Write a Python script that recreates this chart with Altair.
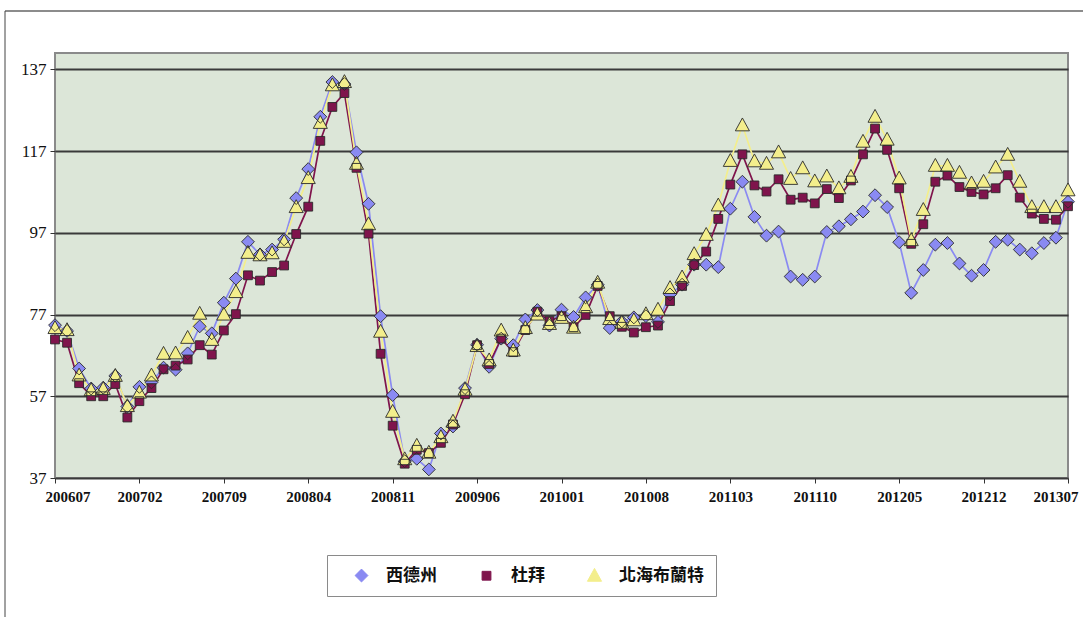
import altair as alt
import pandas as pd

# Monthly labels, 2006-07 .. 2013-07
months = [f"{2006 + (6 + i) // 12}{(6 + i) % 12 + 1:02d}" for i in range(85)]

series_names = ["西德州", "杜拜", "北海布蘭特"]

wti = [74.4, 73.0, 63.8, 58.9, 59.1, 62.0,
       54.5, 59.3, 60.4, 64.0, 63.5, 67.5, 74.1, 72.4, 79.9, 85.8, 94.8, 91.7,
       92.9, 95.4, 105.5, 112.6, 125.4, 133.9, 133.4, 116.7, 104.1, 76.6, 57.3, 41.1,
       41.7, 39.1, 47.9, 49.6, 59.0, 69.6, 64.2, 71.1, 69.5, 75.8, 78.1, 74.3,
       78.2, 76.4, 81.2, 84.3, 73.7, 75.3, 76.3, 76.6, 75.2, 81.9, 84.3, 89.2,
       89.2, 88.6, 102.9, 109.5, 100.9, 96.3, 97.3, 86.3, 85.5, 86.3, 97.2, 98.6,
       100.3, 102.2, 106.2, 103.3, 94.7, 82.3, 87.9, 94.1, 94.5, 89.5, 86.5, 87.9,
       94.8, 95.3, 92.9, 92.0, 94.5, 95.8, 104.6]

dubai = [70.9, 70.1, 60.2, 57.0, 57.0, 60.0,
         51.8, 55.8, 59.0, 63.6, 64.5, 66.0, 69.5, 67.2, 73.1, 77.1, 86.6, 85.3,
         87.4, 89.0, 96.7, 103.4, 119.5, 127.8, 131.2, 112.9, 96.8, 67.4, 49.8, 40.5,
         43.9, 43.1, 45.6, 50.1, 57.5, 69.5, 64.9, 71.1, 67.8, 73.2, 77.7, 75.4,
         76.6, 73.9, 76.9, 84.0, 76.6, 74.0, 72.6, 73.9, 74.3, 80.3, 84.0, 89.1,
         92.4, 100.4, 108.8, 116.2, 108.6, 107.1, 110.1, 105.1, 105.6, 104.2, 107.7, 105.5,
         109.8, 116.2, 122.5, 117.3, 107.9, 94.3, 99.1, 109.5, 111.0, 108.2, 107.0, 106.4,
         107.9, 111.1, 105.6, 101.7, 100.4, 100.2, 103.5]

brent = [73.7, 73.2, 62.1, 58.5, 58.8, 62.0,
         54.6, 57.9, 62.1, 67.4, 67.5, 71.3, 77.2, 70.8, 77.0, 82.5, 92.1, 91.5,
         92.0, 94.8, 103.3, 110.4, 123.9, 133.1, 133.9, 113.9, 99.1, 72.8, 53.2, 41.6,
         44.9, 43.2, 47.0, 50.8, 58.6, 69.3, 65.8, 73.1, 68.2, 73.7, 77.0, 74.7,
         76.2, 73.8, 78.8, 84.8, 75.9, 75.0, 75.6, 77.1, 78.2, 83.5, 86.1, 91.8,
         96.5, 103.7, 114.6, 123.3, 114.5, 113.9, 116.7, 110.2, 112.8, 109.6, 110.8, 107.9,
         110.7, 119.3, 125.4, 119.8, 110.3, 95.2, 102.6, 113.4, 113.4, 111.7, 109.1, 109.5,
         113.0, 116.1, 109.5, 103.3, 103.3, 103.3, 107.4]

y_ticks = [37, 57, 77, 97, 117, 137]
x_ticks = list(range(0, 85, 7))

series_colors = ["#8a8af2", "#7f144c", "#f3ee8c"]
# marker outlines in unit coordinates: diamond, square, triangle
marker_paths = [
    "M0,-1.05L1.05,0L0,1.05L-1.05,0Z",
    "M-0.72,-0.72L0.72,-0.72L0.72,0.72L-0.72,0.72Z",
    "M0,-1.2L1.15,0.9L-1.15,0.9Z",
]

rows = []
for name, vals in zip(series_names, [wti, dubai, brent]):
    for i, v in enumerate(vals):
        rows.append({"idx": i, "month": months[i], "series": name, "value": v})
df = pd.DataFrame(rows)

label_expr = "[" + ",".join(f"'{m}'" for m in months) + "][datum.value]"

x_enc = alt.X(
    "idx:Q",
    scale=alt.Scale(domain=[0, 84], nice=False, zero=False),
    axis=alt.Axis(values=x_ticks, labelExpr=label_expr, title=None, grid=False,
                  domain=False, tickSize=5, tickColor="#333333", labelFlush=True,
                  labelFlushOffset=10, labelOverlap=False, labelPadding=6,
                  labelFont="Liberation Serif", labelFontSize=15,
                  labelFontWeight="bold", labelColor="#111111"),
)
y_enc = alt.Y(
    "value:Q",
    scale=alt.Scale(domain=[37, 141], nice=False, zero=False),
    axis=alt.Axis(values=y_ticks, title=None, grid=True, gridColor="#3a3a3a",
                  gridWidth=1.8, domain=False, tickSize=5, tickColor="#333333",
                  labelPadding=4, labelFont="Liberation Serif", labelFontSize=17,
                  labelColor="#111111"),
)

series_legend = alt.Legend(
    title=None,
    orient="none",
    legendX=272,
    legendY=502,
    direction="horizontal",
    strokeColor="#8a8a8a",
    fillColor="white",
    padding=12,
    symbolOffset=14,
    symbolSize=150,
    symbolStrokeColor="#2a2a2a",
    symbolStrokeWidth=1,
    symbolOpacity=1,
    labelFont="Noto Sans CJK TC",
    labelFontSize=17,
    labelFontWeight="bold",
    labelColor="#111111",
    labelOffset=16,
    columnPadding=27,
)

color_enc = alt.Color("series:N", scale=alt.Scale(domain=series_names, range=series_colors),
                      legend=series_legend)
shape_enc = alt.Shape("series:N", scale=alt.Scale(domain=series_names, range=marker_paths),
                      legend=series_legend)

base = alt.Chart(df)

lines = base.mark_line(strokeWidth=1.7).encode(x=x_enc, y=y_enc, color=color_enc)

# filled markers
points = base.mark_point(filled=True, opacity=1, size=150, strokeWidth=0).encode(
    x=x_enc, y=y_enc, color=color_enc, shape=shape_enc,
)

# thin dark marker outlines
outlines = base.mark_point(filled=False, opacity=1, size=150, strokeWidth=0.9,
                           color="#2a2a2a").encode(
    x=x_enc, y=y_enc, shape=shape_enc,
)

# Outer frame lines of the chart area
frame_df = pd.DataFrame({"k": [0]})
frame_top = alt.Chart(frame_df).mark_rule(color="#8c8c8c", strokeWidth=2).encode(
    x=alt.value(-50), x2=alt.value(1028), y=alt.value(-42)
)
frame_left = alt.Chart(frame_df).mark_rule(color="#444444", strokeWidth=1).encode(
    x=alt.value(-50), y=alt.value(-42), y2=alt.value(564)
)

chart = alt.layer(lines, points, outlines, frame_top, frame_left).properties(
    width=1013,
    height=425,
    autosize=alt.AutoSizeParams(type="none"),
    padding={"left": 55, "top": 53, "right": 15, "bottom": 139},
    background="white",
).configure_view(
    fill="#dce6d8", stroke="#8a8a8a", strokeWidth=2
)

chart.save("out.html", embed_options={"renderer": "svg", "actions": False})
